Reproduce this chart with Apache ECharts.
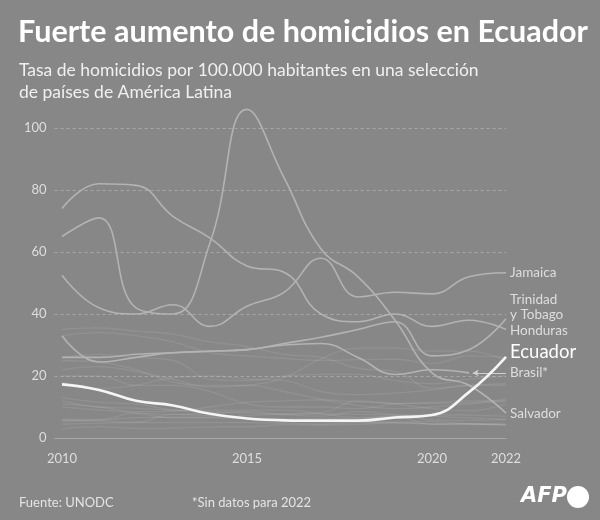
<!DOCTYPE html>
<html>
<head>
<meta charset="utf-8">
<script src="https://cdn.jsdelivr.net/npm/echarts@6/dist/echarts.min.js"></script>
<style>
html,body{margin:0;padding:0;background:#878787;}
#c{width:600px;height:520px;}
</style>
</head>
<body>
<div id="c"></div>
<script>
const years = [2010,2011,2012,2013,2014,2015,2016,2017,2018,2019,2020,2021,2022];
const yTicks = [0,20,40,60,80,100];
const xTicks = [2010,2015,2020,2022];

// Highlighted / labelled countries
const ecuador   = [17.3,15.5,12,10.5,7.8,6.3,5.7,5.6,5.6,6.6,7.4,14.8,26.2];
const jamaica   = [52.5,42,40,43,36,42.5,47,58,45.5,47,46.5,52,53.3];
const trinidad  = [33,24.5,26,27.5,28,28.5,30.5,32.5,35,37.5,26.5,28.5,38.5];
const honduras  = [74,82,81.5,71.5,64.5,55.5,53.5,40,37.5,40,36,38,35];
const brasil    = [26,26,27,27.5,28,28.5,30,30.5,26,20.5,22,21,null];
const salvador  = [65,71,42,40,63,106,84,61,52,38,21,17,8];

// Background countries (faint)
const guatemala = [35,35.5,34.5,33.5,31,29.5,27,26,22.5,21.5,16,17,17.5];
const colombia  = [33,34,33,31,27.5,26.5,25.7,25,25.3,25.4,24,26.5,26];
const mexico    = [22,23,21.5,19,16.5,17,19.5,25.5,29,29,28,28,25];
const puertoRico= [26,27,26,25,19,18.5,20,20.5,20.5,18.5,17.5,19,20];
const guyana    = [18,16,17,19.5,20,19,18.5,15,14,14.5,15.5,17,17];
const dominicana= [25,24.5,22,18,17,17,15,12.5,10.5,9.5,10,11,12];
const panama    = [20,20,17,17,15,11,10,10,9.5,11,11.5,12,12];
const costaRica = [11,10,8.5,8.7,10,11.5,12,12.3,11.7,11.2,11.2,11.4,12.6];
const nicaragua = [13,11.5,11,9,8.5,8,7.5,7,8.5,7.5,7,6.5,6];
const uruguay   = [6,6,8,7.6,8,8.5,7.8,8.2,12,11,9.5,8.8,11];
const paraguay  = [12,10,9.6,9,9,9,9,7.8,6.6,7,7.5,7.4,7];
const peru      = [5.4,5.8,6.6,6.7,6.7,7.2,7.7,7.8,7.6,7.4,5.8,5.7,6];
const chile     = [3,3.7,3.1,3.2,3.6,3.6,4.3,4.2,4.4,4.8,4.6,4.6,4.5];
const argentina = [5.8,5.5,5.1,7.6,7.2,6.6,5.9,5.2,5.3,5.1,5.3,4.6,4.3];
const bolivia   = [10,9,8,6.5,6.5,6.4,6.2,6.3,6.3,7,4.4,4.5,4];
const cuba      = [4.5,4.8,5,5,5,5,4.8,4.5,5,5,4.5,4.5,4.5];

const faint = [guatemala,colombia,mexico,puertoRico,guyana,dominicana,panama,costaRica,nicaragua,uruguay,paraguay,peru,chile,argentina,bolivia,cuba];

const FONT = 'Lato';
const LABEL = '#dedede';
const LINE = '#b3b3b3';

function pts(arr){ return years.map((y,i)=>[y,arr[i]]).filter(p=>p[1]!==null); }

function mainSeries(name, arr, label, dy, extra){
  return Object.assign({
    type:'line', name:name, data:pts(arr), smooth:0.45, symbol:'none', clip:false,
    lineStyle:{color:LINE, width:1.6},
    endLabel:{show:!!label, formatter:label||'', color:LABEL, fontFamily:FONT, fontSize:13.5, lineHeight:15, distance:4, offset:[0,dy||0]},
    emphasis:{disabled:true}, z:3
  }, extra||{});
}

const series = [];
faint.forEach((arr,i)=>{
  series.push({type:'line', name:'f'+i, data:pts(arr), smooth:0.45, symbol:'none',
    lineStyle:{color:'rgba(255,255,255,0.09)', width:1.3}, emphasis:{disabled:true}, z:2});
});
series.push(mainSeries('Jamaica', jamaica, 'Jamaica', 0));
series.push(mainSeries('Trinidad y Tobago', trinidad, 'Trinidad\ny Tobago', -12));
series.push(mainSeries('Honduras', honduras, 'Honduras', 1.5));
series.push(mainSeries('Salvador', salvador, 'Salvador', 0));
series.push(mainSeries('Brasil', brasil, '', 0, {
  markLine:{silent:true, symbol:['arrow','none'], symbolSize:[5,6],
    lineStyle:{color:'#d0d0d0', width:1, type:'solid'},
    label:{show:true, position:'end', formatter:'Brasil*', color:LABEL, fontFamily:FONT, fontSize:13.5, distance:4},
    data:[[{coord:[2021.1, brasil[11]]},{coord:[2022, brasil[11]]}]]}
}));
series.push({type:'line', name:'Ecuador', data:pts(ecuador), smooth:0.45, symbol:'none', clip:false,
  lineStyle:{color:'#f5f5f5', width:2.6}, z:5, emphasis:{disabled:true},
  endLabel:{show:true, formatter:'Ecuador', color:'#ffffff', fontFamily:FONT, fontSize:18.5, distance:4, offset:[0,-5]}});

const chart = echarts.init(document.getElementById('c'), null, {renderer:'canvas'});
chart.setOption({
  backgroundColor:'#878787',
  animation:false,
  title:[
    {text:'Fuerte aumento de homicidios en Ecuador', left:13, top:12,
      textStyle:{color:'#ffffff', fontFamily:FONT, fontWeight:'bold', fontSize:30.5}},
    {text:'Tasa de homicidios por 100.000 habitantes en una selección\nde países de América Latina', left:14, top:54,
      textStyle:{color:'#f0f0f0', fontFamily:FONT, fontWeight:'normal', fontSize:17.5, lineHeight:22}},
    {text:'Fuente: UNODC', left:14, top:491,
      textStyle:{color:'#e4e4e4', fontFamily:FONT, fontWeight:'normal', fontSize:13}},
    {text:'*Sin datos para 2022', left:187, top:491,
      textStyle:{color:'#e4e4e4', fontFamily:FONT, fontWeight:'normal', fontSize:13}}
  ],
  graphic:[
    {type:'text', left:521, top:486, style:{text:'AFP', fill:'#ffffff', font:'italic 900 21px "DejaVu Sans"'}},
    {type:'circle', shape:{cx:578, cy:497, r:11}, style:{fill:'#ffffff'}}
  ],
  grid:{left:54.6, right:94, top:128, bottom:82},
  xAxis:{type:'value', min:2009.8, max:2022,
    axisLine:{show:true, lineStyle:{color:'#a9a9a9', width:1}},
    axisTick:{show:false}, splitLine:{show:false},
    axisLabel:{customValues:xTicks, color:LABEL, fontFamily:FONT, fontSize:13, margin:14, formatter:v=>String(v)}},
  yAxis:{type:'value', min:0, max:100, interval:20,
    axisLine:{show:false}, axisTick:{show:false},
    splitLine:{show:true, lineStyle:{color:'rgba(255,255,255,0.28)', type:[3,3], width:1}},
    axisLabel:{color:LABEL, fontFamily:FONT, fontSize:13, margin:8, formatter:v=>yTicks.includes(v)?String(v):''}},
  series:series
});
</script>
</body>
</html>
